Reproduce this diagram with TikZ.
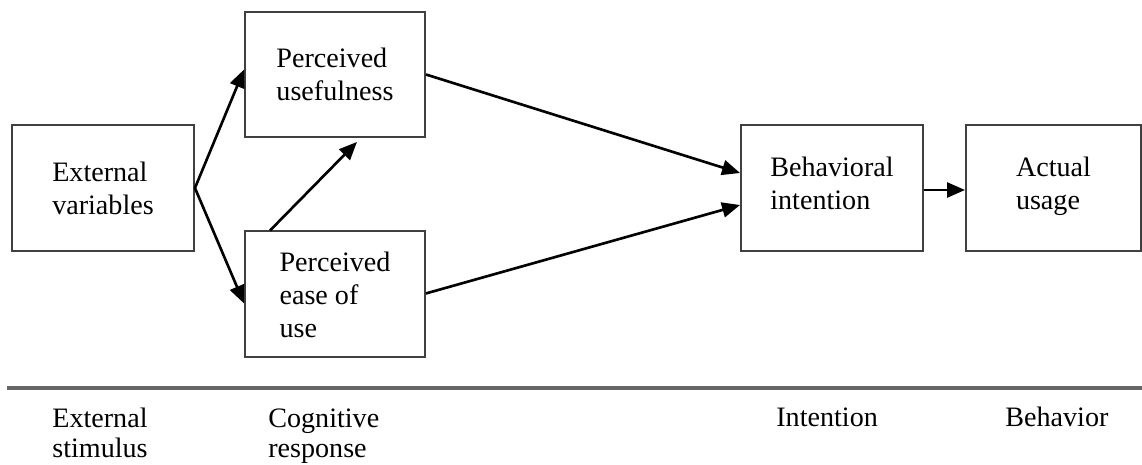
\documentclass[tikz,border=0pt]{standalone}
\usepackage{fontspec}
\setmainfont{Liberation Serif}
\usetikzlibrary{arrows.meta}

\begin{document}
\begin{tikzpicture}[x=0.02cm, y=-0.02cm, node distance=44mm, block/.style={rectangle, draw=black!75, line width=1.1pt, minimum width=36.4mm, minimum height=25.2mm, align=left, font=\fontsize{16}{18.8}\selectfont}, stage/.style={anchor=base west, inner sep=0pt, align=left, font=\fontsize{16}{17.4}\selectfont}, arr/.style={-{Triangle[length=3.6mm, width=3mm]}, line width=1.5pt}]

  \useasboundingbox (0,0) rectangle (1142,465);

  \node[block] (ext) at (103,188) {External\\variables};
  \node[block, minimum width=36mm, minimum height=25mm] (pu) at (335,74.5) {Perceived\\usefulness};
  \node[block, minimum width=36mm, below of=pu, node distance=44mm] (peou) {Perceived\\ease of\\use};
  \node[block] (bi) at (832,188) {Behavioral\\intention\strut};
  \node[block, minimum width=35mm, right of=bi, node distance=44.3mm] (au) {Actual\\usage\strut};

  \coordinate (rulel) at (7,388);
  \coordinate (ruler) at (1142,388);
  \draw[black!60, line width=2pt] (rulel) -- (ruler);

  % two-line labels sit on their last baseline
  \node[stage] (stim) at (52,458) {External\\stimulus};
  \node[stage] (cogn) at (268,458) {Cognitive\\response};
  \node[stage] (intn) at (776,427) {Intention};
  \node[stage] (behv) at (1005,427) {Behavior};

  \draw[arr] (ext.east) -- ([yshift=0.1cm]pu.west);
  \draw[arr] (ext.east) -- ([yshift=-0.18cm]peou.west);
  \draw[arr] ([xshift=-1.3cm]peou.north) -- ([xshift=0.44cm, yshift=-0.08cm]pu.south);
  \draw[arr] (pu.east) -- ([yshift=0.3cm]bi.west);
  \draw[arr] ([yshift=0.02cm]peou.east) -- ([yshift=-0.34cm]bi.west);
  \draw[arr] ([yshift=-0.04cm]bi.east) -- ([yshift=-0.04cm]au.west);
\end{tikzpicture}
\end{document}
